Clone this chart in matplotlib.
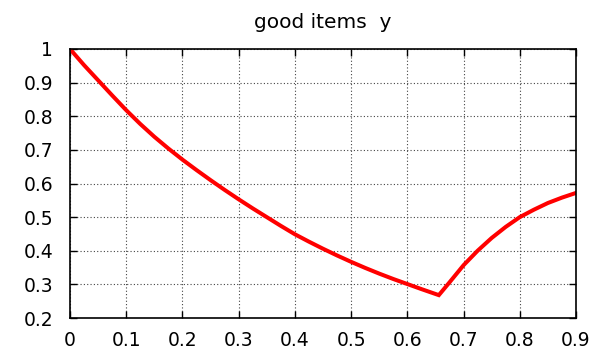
import matplotlib
matplotlib.use("Agg")
import matplotlib.pyplot as plt

# values
x_vals = [0.0, 0.025, 0.05, 0.075, 0.1, 0.125, 0.15, 0.175, 0.2, 0.225, 0.25, 0.275, 0.3,
          0.325, 0.35, 0.375, 0.4, 0.425, 0.45, 0.475, 0.5, 0.525, 0.55, 0.575, 0.6, 0.625,
          0.656, 0.675, 0.7, 0.725, 0.75, 0.775, 0.8, 0.825, 0.85, 0.875, 0.9]
y_vals = [1.0, 0.952, 0.907, 0.862, 0.818, 0.777, 0.739, 0.704, 0.671, 0.640, 0.610, 0.581, 0.553,
          0.526, 0.500, 0.474, 0.449, 0.427, 0.406, 0.386, 0.367, 0.349, 0.332, 0.316, 0.301, 0.286,
          0.268, 0.306, 0.357, 0.400, 0.438, 0.471, 0.500, 0.522, 0.542, 0.558, 0.572]
x_ticks = [0, 0.1, 0.2, 0.3, 0.4, 0.5, 0.6, 0.7, 0.8, 0.9]
x_labels = ["0", "0.1", "0.2", "0.3", "0.4", "0.5", "0.6", "0.7", "0.8", "0.9"]
y_ticks = [0.2, 0.3, 0.4, 0.5, 0.6, 0.7, 0.8, 0.9, 1.0]
y_labels = ["0.2", "0.3", "0.4", "0.5", "0.6", "0.7", "0.8", "0.9", "1"]
title = "good items  y"

plt.rcParams["font.family"] = ["DejaVu Sans"]

fig = plt.figure(figsize=(6.01, 3.49), dpi=100)
ax = fig.add_axes([70 / 601, 1 - 318 / 349, 506 / 601, 269 / 349])

ax.plot(x_vals, y_vals, color="#ff0000", lw=2.9, solid_joinstyle="miter")

ax.set_xlim(0, 0.9)
ax.set_ylim(0.2, 1.0)
ax.set_xticks(x_ticks)
ax.set_xticklabels(x_labels)
ax.set_yticks(y_ticks)
ax.set_yticklabels(y_labels)
ax.tick_params(direction="in", length=5, width=1, top=True, right=True,
               labelsize=13.5, colors="black")
ax.tick_params(axis="x", pad=9)
ax.tick_params(axis="y", pad=12)
ax.grid(True, color="#444444", linestyle=(0, (1, 2)), linewidth=0.8)
for s in ax.spines.values():
    s.set_linewidth(1.2)
    s.set_color("black")

ax.set_title(title, fontsize=14.5, pad=15)

fig.savefig("out.png", dpi=100)
